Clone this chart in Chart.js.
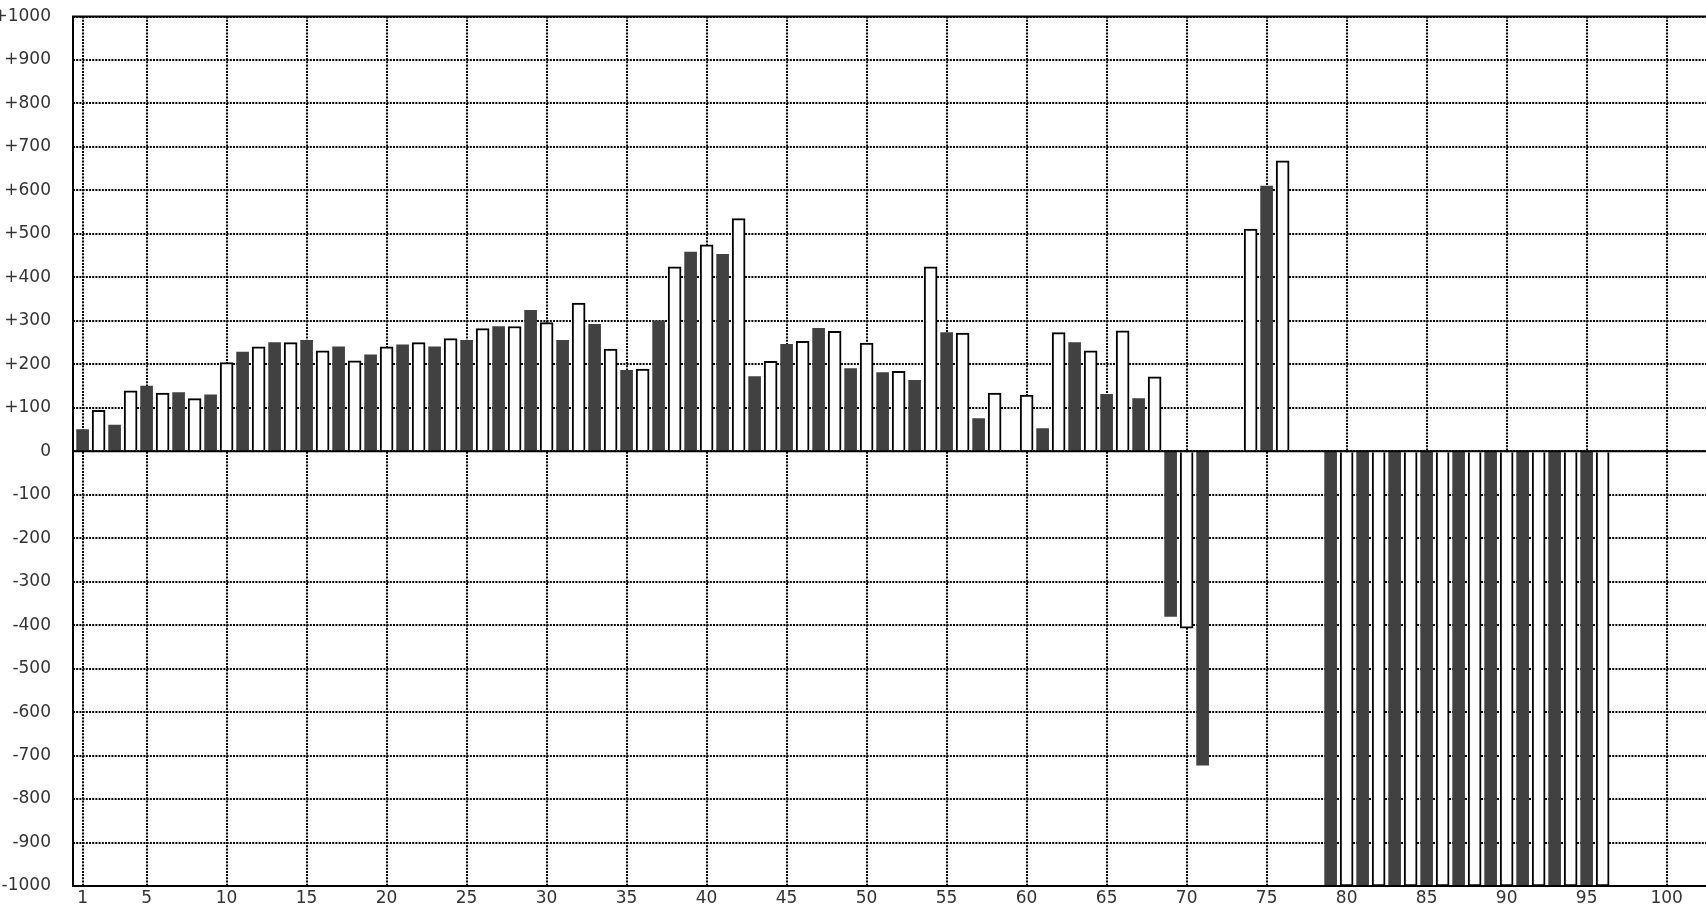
<!DOCTYPE html>
<html>
<head>
<meta charset="utf-8">
<script src="https://cdn.jsdelivr.net/npm/chart.js@4/dist/chart.umd.min.js"></script>
<style>
  html, body { margin: 0; padding: 0; background: #fff; overflow: hidden; }
  #wrap { width: 1706px; height: 908px; position: relative; }
</style>
</head>
<body>
<div id="wrap"><canvas id="c" width="1706" height="908"></canvas></div>
<script>
// ---- data ----
const darkCategories = [1,3,5,7,9,11,13,15,17,19,21,23,25,27,29,31,33,35,37,39,41,43,45,47,49,51,53,55,57,59,61,63,65,67,69,71,73,75,77,79,81,83,85,87,89,91,93,95];
const darkValues = [50,60,150,135,130,228,250,255,240,222,245,240,255,287,324,255,292,186,300,458,453,172,246,283,190,181,163,273,75,null,52,250,131,121,-380,-722,null,610,null,-1000,-1000,-1000,-1000,-1000,-1000,-1000,-1000,-1000];

const lightCategories = [2,4,6,8,10,12,14,16,18,20,22,24,26,28,30,32,34,36,38,40,42,44,46,48,50,52,54,56,58,60,62,64,66,68,70,72,74,76,78,80,82,84,86,88,90,92,94,96];
const lightValues = [94,139,134,121,204,240,250,231,208,240,250,259,282,287,296,341,235,189,424,475,535,207,253,276,249,184,424,272,134,129,273,231,277,171,-407,null,511,668,null,-1000,-1000,-1000,-1000,-1000,-1000,-1000,-1000,-1000];

const xTickValues = [1,5,10,15,20,25,30,35,40,45,50,55,60,65,70,75,80,85,90,95,100];
const yTickValues = [-1000,-900,-800,-700,-600,-500,-400,-300,-200,-100,0,100,200,300,400,500,600,700,800,900,1000];
const yTickLabels = ['-1000','-900','-800','-700','-600','-500','-400','-300','-200','-100','0','+100','+200','+300','+400','+500','+600','+700','+800','+900','+1000'];

// ---- chart ----
Chart.defaults.font.family = "'DejaVu Sans', sans-serif";
Chart.defaults.font.size = 17;
Chart.defaults.color = '#333333';

const toPoints = (cats, vals) => cats.map((c, i) => ({ x: c, y: vals[i] }));

const framePlugin = {
  id: 'frame',
  afterDatasetsDraw(chart) {
    const { ctx, chartArea: a, scales: { y } } = chart;
    const zero = y.getPixelForValue(0);
    ctx.save();
    ctx.strokeStyle = '#000';
    ctx.lineWidth = 2;
    ctx.beginPath();
    ctx.moveTo(a.left - 1, a.top); ctx.lineTo(a.right, a.top);
    ctx.moveTo(a.left, a.top); ctx.lineTo(a.left, a.bottom);
    ctx.moveTo(a.left - 1, a.bottom); ctx.lineTo(a.right, a.bottom);
    ctx.moveTo(a.left, zero); ctx.lineTo(a.right, zero);
    ctx.stroke();
    ctx.restore();
  }
};

new Chart(document.getElementById('c'), {
  type: 'bar',
  data: {
    datasets: [
      {
        label: 'dark',
        data: toPoints(darkCategories, darkValues),
        backgroundColor: '#414141',
        borderWidth: 0,
        barThickness: 12,
        grouped: false
      },
      {
        label: 'light',
        data: toPoints(lightCategories, lightValues),
        backgroundColor: '#ffffff',
        borderColor: '#000000',
        borderWidth: 2,
        barThickness: 13,
        grouped: false
      }
    ]
  },
  options: {
    responsive: false,
    animation: false,
    events: [],
    layout: { padding: { top: 16.5, left: 0, right: 0, bottom: 0 } },
    plugins: { legend: { display: false }, tooltip: { enabled: false } },
    scales: {
      x: {
        type: 'linear',
        min: 0.4,
        max: 102.46,
        offset: false,
        afterBuildTicks: (s) => { s.ticks = xTickValues.map(v => ({ value: v })); },
        afterFit: (s) => { s.height = 22; s.paddingLeft = 0; s.paddingRight = 0; },
        ticks: { padding: 2, maxRotation: 0, autoSkip: false, callback: (v) => String(v) },
        grid: { color: '#000', lineWidth: 2, drawTicks: false, offset: false },
        border: { display: false, dash: [2, 1.2] }
      },
      y: {
        min: -1000,
        max: 1000,
        afterBuildTicks: (s) => { s.ticks = yTickValues.map(v => ({ value: v })); },
        afterFit: (s) => { s.width = 73; s.paddingTop = 0; s.paddingBottom = 0; },
        ticks: {
          padding: 22,
          autoSkip: false,
          callback: (v) => yTickLabels[yTickValues.indexOf(v)]
        },
        grid: { color: '#000', lineWidth: 2, drawTicks: false, offset: false },
        border: { display: false, dash: [2, 1.2] }
      }
    }
  },
  plugins: [framePlugin]
});
</script>
</body>
</html>
